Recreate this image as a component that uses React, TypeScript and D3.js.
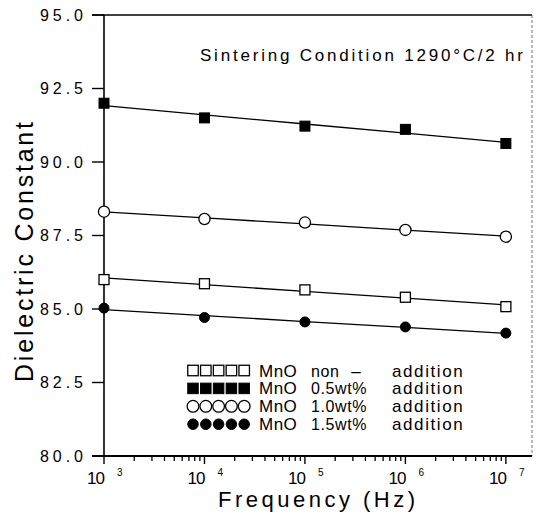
import React from "react";
import * as d3 from "d3";

// ---- data ----
const frequencies = [1e3, 1e4, 1e5, 1e6, 1e7];
const mnoNonAddition = [86.0, 85.86, 85.65, 85.4, 85.08];
const mno05 = [92.0, 91.5, 91.22, 91.11, 90.63];
const mno10 = [88.31, 88.06, 87.94, 87.69, 87.46];
const mno15 = [85.03, 84.71, 84.56, 84.39, 84.18];

const yTicks = [80, 82.5, 85, 87.5, 90, 92.5, 95];
const xDecadeExponents = [3, 4, 5, 6, 7];
const minorMultipliers = [2, 3, 4, 5, 6, 7, 8, 9];

const legendWords = ["non", "0.5wt%", "1.0wt%", "1.5wt%"];
const legendMarkers = ["squareOpen", "squareFilled", "circleOpen", "circleFilled"];
const seriesValues = [mnoNonAddition, mno05, mno10, mno15];

const W = 537;
const H = 517;

const x = d3.scaleLog().domain([1e3, Math.pow(10, 7.26)]).range([104, 532]);
const y = d3.scaleLinear().domain([80, 95]).range([456, 15]);

function fit(values: number[]) {
  const lx = frequencies.map((f) => Math.log10(f));
  const mx = d3.mean(lx) as number;
  const my = d3.mean(values) as number;
  let num = 0;
  let den = 0;
  lx.forEach((v, i) => {
    num += (v - mx) * (values[i] - my);
    den += (v - mx) * (v - mx);
  });
  const b = num / den;
  const a = my - b * mx;
  return (f: number) => a + b * Math.log10(f);
}

function Marker({ kind, cx, cy, s }: { kind: string; cx: number; cy: number; s: number }) {
  if (kind === "squareOpen")
    return <rect x={cx - s / 2} y={cy - s / 2} width={s} height={s} fill="white" stroke="black" strokeWidth={1.3} />;
  if (kind === "squareFilled")
    return <rect x={cx - s / 2} y={cy - s / 2} width={s} height={s} fill="black" stroke="black" strokeWidth={1} />;
  if (kind === "circleOpen")
    return <circle cx={cx} cy={cy} r={s / 2 + 0.6} fill="white" stroke="black" strokeWidth={1.3} />;
  return <circle cx={cx} cy={cy} r={s / 2} fill="black" stroke="black" strokeWidth={1} />;
}

export default function App() {
  const font = "'Liberation Sans', Arial, sans-serif";

  const minorTicks: number[] = [];
  xDecadeExponents.forEach((e) => {
    minorMultipliers.forEach((m) => {
      const v = m * Math.pow(10, e);
      if (v < x.domain()[1]) minorTicks.push(v);
    });
  });

  const legendY0 = 370.5;
  const legendStep = 17.9;

  return (
    <svg
      width={W}
      height={H}
      style={{ position: "absolute", left: 0, top: 0, background: "white", display: "block" }}
      fontFamily={font}
    >
      <rect x={0} y={0} width={W} height={H} fill="white" />

      {/* frame */}
      <line x1={92} x2={532} y1={y(95)} y2={y(95)} stroke="black" strokeWidth={1.4} />
      <line x1={532} x2={532} y1={y(95)} y2={y(80)} stroke="#666" strokeWidth={0.9} strokeDasharray="3,2" />
      <line x1={x(1e3)} x2={x(1e3)} y1={y(95)} y2={y(80)} stroke="black" strokeWidth={1.6} />
      <line x1={92} x2={532} y1={y(80)} y2={y(80)} stroke="black" strokeWidth={2} />

      {/* y ticks */}
      {yTicks.map((t) => (
        <g key={t}>
          <line x1={92} x2={x(1e3)} y1={y(t)} y2={y(t)} stroke="black" strokeWidth={1.4} />
          <text x={40} y={y(t)} dy="0.36em" fontSize={16} textLength={43} lengthAdjust="spacing">
            {t.toFixed(1)}
          </text>
        </g>
      ))}

      {/* x ticks */}
      {minorTicks.map((t) => (
        <line key={"m" + t} x1={x(t)} x2={x(t)} y1={y(80)} y2={y(80) + 5} stroke="black" strokeWidth={1.3} />
      ))}
      {xDecadeExponents.map((e) => {
        const xp = x(Math.pow(10, e));
        return (
          <g key={"M" + e}>
            <line x1={xp} x2={xp} y1={y(80)} y2={y(80) + 8} stroke="black" strokeWidth={1.4} />
            <text x={xp - 17} y={483.5} fontSize={17} textLength={18} lengthAdjust="spacing">
              10
            </text>
            <text x={xp + 13} y={476} fontSize={10}>
              {e}
            </text>
          </g>
        );
      })}

      {/* axis titles */}
      <text x={218} y={507} fontSize={22} textLength={197} lengthAdjust="spacing">
        Frequency (Hz)
      </text>
      <text
        transform="translate(33,252) rotate(-90)"
        textAnchor="middle"
        fontSize={25}
        textLength={260}
        lengthAdjust="spacing"
      >
        Dielectric Constant
      </text>

      <text x={200} y={61} fontSize={17} textLength={323} lengthAdjust="spacing">
        Sintering Condition 1290°C/2 hr
      </text>

      {/* fitted lines and points */}
      {seriesValues.map((vals, si) => {
        const f = fit(vals);
        const pts = frequencies.map((fr) => y(f(fr)));
        const path = d3
          .line<number>()
          .x((_, i) => x(frequencies[i]))
          .y((v) => v)(pts) as string;
        return <path key={"l" + si} d={path} fill="none" stroke="black" strokeWidth={1.3} />;
      })}
      {seriesValues.map((vals, si) =>
        vals.map((v, i) => (
          <Marker key={"p" + si + "-" + i} kind={legendMarkers[si]} cx={x(frequencies[i])} cy={y(v)} s={10} />
        ))
      )}

      {/* legend */}
      {legendWords.map((w, i) => {
        const cy = legendY0 + i * legendStep;
        const base = cy + 6;
        return (
          <g key={"lg" + i}>
            {[0, 1, 2, 3, 4].map((k) => (
              <Marker key={k} kind={legendMarkers[i]} cx={193 + k * 12.8} cy={cy} s={10.5} />
            ))}
            <text x={259} y={base} fontSize={17} letterSpacing={0.5}>
              MnO
            </text>
            <text x={311} y={base} fontSize={16} letterSpacing={0.6}>
              {w}
            </text>
            {i === 0 && (
              <text x={356} y={base} fontSize={17} textAnchor="middle">
                –
              </text>
            )}
            <text x={392} y={base} fontSize={17} letterSpacing={1.6}>
              addition
            </text>
          </g>
        );
      })}
    </svg>
  );
}
